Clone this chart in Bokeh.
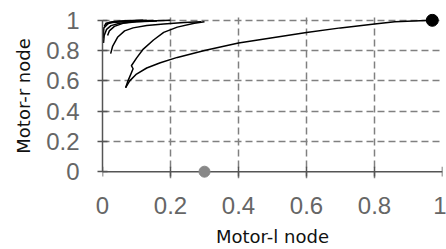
from bokeh.plotting import figure
from bokeh.models import Range1d, FixedTicker
from bokeh.embed import file_html
from bokeh.resources import INLINE

# trajectories (Motor-l node, Motor-r node)
traj1_x = [0.068, 0.08, 0.10, 0.13, 0.17, 0.22, 0.30, 0.40, 0.50, 0.60, 0.70, 0.80, 0.86, 0.97]
traj1_y = [0.555, 0.60, 0.645, 0.685, 0.72, 0.755, 0.80, 0.85, 0.885, 0.92, 0.95, 0.975, 0.99, 1.0]
traj2_x = [0.068, 0.075, 0.09, 0.085, 0.10, 0.12, 0.15, 0.18, 0.22, 0.27, 0.30]
traj2_y = [0.555, 0.60, 0.68, 0.70, 0.75, 0.81, 0.87, 0.92, 0.955, 0.98, 0.99]
traj3_x = [0.024, 0.03, 0.045, 0.065, 0.09, 0.13, 0.18, 0.24, 0.29]
traj3_y = [0.78, 0.83, 0.89, 0.93, 0.95, 0.965, 0.975, 0.985, 0.99]
traj4_x = [0.003, 0.005, 0.012, 0.025, 0.05, 0.09, 0.14, 0.20]
traj4_y = [0.85, 0.90, 0.94, 0.965, 0.98, 0.99, 0.995, 1.0]
traj5_x = [0.015, 0.02, 0.035, 0.06, 0.10, 0.16]
traj5_y = [0.90, 0.93, 0.96, 0.98, 0.99, 0.995]
traj6_x = [0.005, 0.01, 0.03, 0.07, 0.12]
traj6_y = [0.96, 0.98, 0.99, 0.997, 1.0]
traj7_x = [0.002, 0.004, 0.02, 0.06, 0.13]
traj7_y = [0.88, 0.95, 0.985, 0.995, 1.0]
traj8_x = [0.01, 0.03, 0.06, 0.10, 0.15]
traj8_y = [0.975, 0.985, 0.99, 0.995, 0.998]

end_x = [0.97]
end_y = [1.0]
start_x = [0.30]
start_y = [0.0]

ticks = [0, 0.2, 0.4, 0.6, 0.8, 1]
tick_labels = {0: "0", 0.2: "0.2", 0.4: "0.4", 0.6: "0.6", 0.8: "0.8", 1: "1"}

p = figure(width=446, height=249, output_backend="svg", toolbar_location=None,
           x_range=Range1d(0, 1), y_range=Range1d(-0.045, 1.045),
           min_border_left=102, min_border_right=4, min_border_top=13, min_border_bottom=67)
p.outline_line_color = None
p.background_fill_color = "white"

for ax in (p.xaxis[0], p.yaxis[0]):
    ax.ticker = FixedTicker(ticks=ticks)
    ax.major_label_overrides = tick_labels
    ax.minor_tick_line_color = None
    ax.major_tick_in = 5
    ax.major_tick_out = 5
    ax.bounds = (0, 1)
    ax.axis_line_color = "#555555"
    ax.axis_line_width = 1.5
    ax.major_tick_line_color = "#555555"
    ax.major_tick_line_width = 1.5
    ax.major_label_text_font = "Liberation Sans"
    ax.major_label_text_font_size = "24px"
    ax.major_label_text_color = "#666666"
    ax.axis_label_text_font = "DejaVu Sans"
    ax.axis_label_text_font_size = "18px"
    ax.axis_label_text_font_style = "normal"
    ax.axis_label_text_color = "#111111"

# x axis: labels at the frame bottom; its line and ticks are drawn at y = 0
p.xaxis.axis_line_color = None
p.xaxis.major_tick_line_color = None
p.xaxis.major_tick_in = 0
p.xaxis.major_tick_out = 0
p.xaxis.axis_label = "Motor-l node"
p.yaxis.axis_label = "Motor-r node"
p.xaxis.major_label_standoff = 18
p.yaxis.major_label_standoff = 18
p.xaxis.axis_label_standoff = 9
p.yaxis.axis_label_standoff = 9

for g in (p.xgrid[0], p.ygrid[0]):
    g.ticker = FixedTicker(ticks=[0.2, 0.4, 0.6, 0.8, 1])
    g.bounds = (0, 1)
    g.grid_line_color = "#808080"
    g.grid_line_dash = "7 4"
    g.grid_line_width = 1.5

n = len(ticks)
tick_half = 0.032  # tick half-length in data units (about 5 px)
p.line(ticks, [0] * n, line_color="#555555", line_width=1.5)
p.segment(x0=ticks, y0=[-tick_half] * n, x1=ticks, y1=[tick_half] * n,
          line_color="#555555", line_width=1.5)

for xs, ys in [(traj1_x, traj1_y), (traj2_x, traj2_y), (traj3_x, traj3_y),
               (traj4_x, traj4_y), (traj5_x, traj5_y), (traj6_x, traj6_y),
               (traj7_x, traj7_y), (traj8_x, traj8_y)]:
    p.line(xs, ys, line_color="black", line_width=1.5)

p.scatter(end_x, end_y, size=12, fill_color="black", line_color="black")
p.scatter(start_x, start_y, size=11, fill_color="#888888", line_color="#888888")

open("out.html", "w").write(file_html(p, INLINE))
